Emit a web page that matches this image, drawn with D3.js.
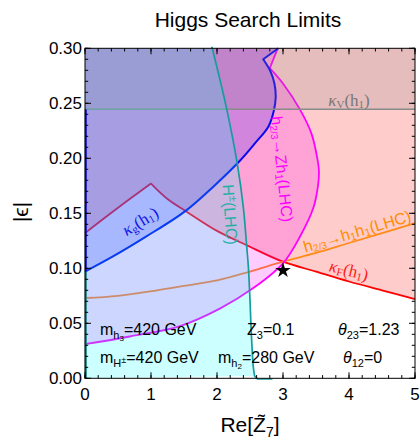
<!DOCTYPE html>
<html><head><meta charset="utf-8">
<script src="https://cdn.jsdelivr.net/npm/d3@7"></script>
<style>
body{margin:0;background:#fff}
text{font-family:"Liberation Sans",Arial,sans-serif}
.serif{font-family:"Liberation Serif","Times New Roman",serif}
</style>
</head><body>
<svg id="c" width="420" height="439"></svg>
<script>
// ---- data ----
const xTicks = [0,1,2,3,4,5];
const yTicks = [0,0.05,0.10,0.15,0.20,0.25,0.30];
const yTickLabels = ["0.00","0.05","0.10","0.15","0.20","0.25","0.30"];

// kappa_g(h1) boundary (excluded region left/above)
const kappaG = [[0,0.097],[0.43,0.111],[0.93,0.129],[1.52,0.152],[1.94,0.174],[2.35,0.198],[2.58,0.214],[2.78,0.229],[2.86,0.243],[2.89,0.256],[2.87,0.268],[2.81,0.279],[2.70,0.290]];
const kappaGTip = [[2.93,0.30]];
// h2/3 -> Z h1 (LHC) boundary
const zh1 = [[0,0.031],[0.68,0.038],[1.44,0.0475],[2.05,0.0636],[2.55,0.082],[3.0,0.1045],[3.25,0.128],[3.46,0.155],[3.53,0.175],[3.545,0.188],[3.52,0.20],[3.43,0.2227],[3.26,0.244],[3.0,0.268],[2.80,0.282]];
const zh1Tip = [[2.92,0.30]];
// kappa_F(h1) boundary (excluded region above)
const kappaFLeft = [[0,0.132],[0.5,0.155],[1.0,0.177]];
const kappaFRight = [[1.0,0.177],[1.25,0.163],[1.54,0.1515],[2.0,0.134],[2.45,0.121],[3.0,0.106],[3.5,0.097],[4.0,0.088],[4.5,0.080],[5.0,0.072]];
// H+- (LHC) boundary (excluded region left)
const hpm = [[1.92,0.302],[2.15,0.244],[2.31,0.194],[2.40,0.155],[2.45,0.12],[2.475,0.1015],[2.50,0.071],[2.52,0.041],[2.55,0.0105],[2.57,0.002]];
const hpmTail = [[2.62,-0.001],[2.84,-0.001]];
// h2/3 -> h1 h1 (LHC) line
const h1h1 = [[0,0.073],[0.5,0.075],[1.09,0.080],[1.5,0.084],[2.0,0.089],[2.5,0.097],[3.0,0.106],[3.5,0.114],[4.0,0.123],[4.5,0.132],[5.0,0.141]];
// kappa_V(h1) limit
const kappaV = [0.2445];
// benchmark point
const starPt = [[3.0,0.098]];

// ---- layout ----
const svg = d3.select("#c");
const x = d3.scaleLinear().domain([0,5]).range([85,415]);
const y = d3.scaleLinear().domain([0,0.3]).range([378.3,48.3]);
const X0=x(0),X1=x(5),Y0=y(0),Y1=y(0.3);

const defs = svg.append("defs");
defs.append("clipPath").attr("id","pc").append("rect")
  .attr("x",X0).attr("y",Y1).attr("width",X1-X0).attr("height",Y0-Y1);
defs.append("clipPath").attr("id","pc2").append("rect")
  .attr("x",X0-1.5).attr("y",Y1-1.5).attr("width",X1-X0+3).attr("height",Y0-Y1+3);

const line = d3.line().x(d=>x(d[0])).y(d=>y(d[1])).curve(d3.curveCatmullRom.alpha(0.5));
const cont = p => line(p).replace(/^M/,"L");
const P = (a,b)=>`L${x(a)},${y(b)}`;
const Ls = p => p.map(d=>P(d[0],d[1])).join("");

const layer = (fillD, fillC, lineD, lineC, lw) => {
  const g = svg.append("g");
  g.append("path").attr("d",fillD).attr("fill",fillC).attr("stroke","none").attr("clip-path","url(#pc)");
  if(lineD) g.append("path").attr("d",lineD).attr("fill","none").attr("stroke",lineC).attr("stroke-width",lw).attr("clip-path","url(#pc2)").attr("stroke-linejoin","round");
  return g;
};

// kappa_F
const kFpath = line(kappaFLeft) + cont(kappaFRight);
layer(kFpath + P(5,0.3)+P(0,0.3)+"Z","rgba(255,0,0,0.2)", kFpath, "#ff0000", 1.8);
// orange h1h1 line
svg.append("path").attr("d",line(h1h1)).attr("fill","none").attr("stroke","#ff8c1a").attr("stroke-width",1.8).attr("clip-path","url(#pc2)");
// Zh1
const zPath = line(zh1) + Ls(zh1Tip);
layer(zPath + P(0,0.3)+"Z","rgba(255,0,255,0.2)", zPath, "#ff00ff", 1.8);
// kappa_g
const gPath = line(kappaG) + Ls(kappaGTip);
layer(gPath + P(0,0.3)+"Z","rgba(0,0,255,0.18)", gPath, "#0a0af0", 2);
// kappa_V
layer(`M${X0},${y(kappaV[0])}L${X1},${y(kappaV[0])}L${X1},${Y1}L${X0},${Y1}Z`,"rgba(128,128,128,0.2)",
      `M${X0},${y(kappaV[0])}L${X1},${y(kappaV[0])}`,"#8a8a8a",1.5);
// H+-
const hPath = line(hpm);
layer(hPath + P(0,0)+P(0,0.3)+"Z","rgba(0,255,255,0.2)", hPath + Ls(hpmTail), "#159c9c", 1.7);

// boundary segments on the left frame
svg.append("path").attr("d",`M${X0+0.8},${Y0}L${X0+0.8},${y(kappaG[0][1])}`).attr("stroke","#137f7f").attr("stroke-width",2).attr("fill","none");
svg.append("path").attr("d",`M${X0+0.8},${y(kappaG[0][1])}L${X0+0.8},${y(kappaV[0])}`).attr("stroke","#1010c0").attr("stroke-width",2).attr("fill","none");

// ---- frame and ticks ----
const ax = svg.append("g").attr("stroke","#000").attr("fill","none");
ax.append("rect").attr("x",X0).attr("y",Y1).attr("width",X1-X0).attr("height",Y0-Y1).attr("stroke-width",1);
const xMinor = d3.range(0,5.0001,0.2);
const yMinor = d3.range(0,0.30001,0.01);
const tk = (v,len,isX)=>{
  if(isX){
    ax.append("line").attr("x1",x(v)).attr("x2",x(v)).attr("y1",Y0).attr("y2",Y0-len);
    ax.append("line").attr("x1",x(v)).attr("x2",x(v)).attr("y1",Y1).attr("y2",Y1+len);
  } else {
    ax.append("line").attr("y1",y(v)).attr("y2",y(v)).attr("x1",X0).attr("x2",X0+len);
    ax.append("line").attr("y1",y(v)).attr("y2",y(v)).attr("x1",X1).attr("x2",X1-len);
  }
};
xMinor.forEach(v=>tk(v,3.2,true));
xTicks.forEach(v=>tk(v,6,true));
yMinor.forEach(v=>tk(v,3.2,false));
yTicks.forEach(v=>tk(v,6,false));

const lbl = svg.append("g").attr("font-size",17).attr("fill","#000");
xTicks.forEach(v=>lbl.append("text").attr("x",x(v)).attr("y",400).attr("text-anchor","middle").text(v));
yTicks.forEach((v,i)=>lbl.append("text").attr("x",82).attr("y",y(v)).attr("dy","0.35em").attr("text-anchor","end").text(yTickLabels[i]));

// title & axis labels
svg.append("text").attr("x",248).attr("y",27).attr("text-anchor","middle").attr("font-size",21).text("Higgs Search Limits");
const xl = svg.append("text").attr("x",250).attr("y",432).attr("text-anchor","middle").attr("font-size",21);
xl.append("tspan").text("Re[Z\u0303");
xl.append("tspan").attr("font-size",14).attr("dy",5).text("7");
xl.append("tspan").attr("dy",-5).text("]");
svg.append("text").attr("transform","translate(28,212) rotate(-90)").attr("text-anchor","middle").attr("font-size",21).text("|\u03F5|");

// annotations
const ann = (xx,yy,parts,fs)=>{
  const t = svg.append("text").attr("x",xx).attr("y",yy).attr("font-size",fs||16);
  parts.forEach(p=>{
    const s = t.append("tspan").text(p.t);
    if(p.fs) s.attr("font-size",p.fs);
    if(p.dy) s.attr("dy",p.dy);
    if(p.it) s.attr("font-style","italic");
  });
  return t;
};
ann(100,335,[{t:"m"},{t:"h",fs:11,dy:4},{t:"3",fs:8,dy:2},{t:"=420 GeV",dy:-6}]);
ann(100,363,[{t:"m"},{t:"H",fs:11,dy:4},{t:"\u00B1",fs:9,dy:-4},{t:"=420 GeV",dy:0}]);
ann(247,335,[{t:"Z"},{t:"3",fs:11,dy:4},{t:"=0.1",dy:-4}]);
ann(218,363,[{t:"m"},{t:"h",fs:11,dy:4},{t:"2",fs:8,dy:2},{t:"=280 GeV",dy:-6}]);
ann(338,335,[{t:"\u03B8",it:true},{t:"23",fs:11,dy:4},{t:"=1.23",dy:-4}]);
ann(343,363,[{t:"\u03B8",it:true},{t:"12",fs:11,dy:4},{t:"=0",dy:-4}]);

// curve labels
const kl = (tx,ty,rot,color,sub,fs)=>{
  const t = svg.append("text").attr("class","serif").attr("transform",`translate(${tx},${ty}) rotate(${rot})`)
    .attr("text-anchor","middle").attr("dominant-baseline","central").attr("font-size",fs||17).attr("fill",color);
  t.append("tspan").attr("font-style","italic").text("\u03BA");
  t.append("tspan").attr("font-size",11).attr("dy",4).text(sub);
  t.append("tspan").attr("dy",-4).text("(h");
  t.append("tspan").attr("font-size",11).attr("dy",4).text("1");
  t.append("tspan").attr("dy",-4).text(")");
};
kl(349,100,0,"#777",  "V",17);
kl(140,221,-31,"#1414e6","g",17);
kl(349,270,14,"#ff1a1a","F",17);

// Zh1 label
{
  const t = svg.append("text").attr("transform","translate(282.5,169) rotate(84)").attr("text-anchor","middle")
    .attr("dominant-baseline","central").attr("font-size",16).attr("fill","#f0f");
  t.append("tspan").text("h");
  t.append("tspan").attr("font-size",10).attr("dy",4).text("2/3");
  t.append("tspan").attr("dy",-4).text("\u2192Zh");
  t.append("tspan").attr("font-size",11).attr("dy",4).text("1");
  t.append("tspan").attr("dy",-4).text("(LHC)");
}
// H+- label
{
  const t = svg.append("text").attr("transform","translate(230.5,214.5) rotate(86)").attr("text-anchor","middle")
    .attr("dominant-baseline","central").attr("font-size",16).attr("fill","#1fb0a8");
  t.append("tspan").text("H");
  t.append("tspan").attr("font-size",11).attr("dy",-4).text("\u00B1");
  t.append("tspan").attr("dy",4).text("(LHC)");
}
// h1h1 label
{
  const t = svg.append("text").attr("transform","translate(357,231) rotate(-16.5)").attr("text-anchor","middle")
    .attr("dominant-baseline","central").attr("font-size",16).attr("fill","#ff8c00");
  t.append("tspan").text("h");
  t.append("tspan").attr("font-size",10).attr("dy",4).text("2/3");
  t.append("tspan").attr("dy",-4).text("\u2192h");
  t.append("tspan").attr("font-size",11).attr("dy",4).text("1");
  t.append("tspan").attr("dy",-4).text("h");
  t.append("tspan").attr("font-size",11).attr("dy",4).text("1");
  t.append("tspan").attr("dy",-4).text("(LHC)");
}

// star
svg.selectAll("path.star").data(starPt).enter().append("path").attr("class","star")
  .attr("d",d3.symbol().type(d3.symbolStar).size(75))
  .attr("transform",d=>`translate(${x(d[0])},${y(d[1])})`).attr("fill","#000");
</script>
</body></html>
